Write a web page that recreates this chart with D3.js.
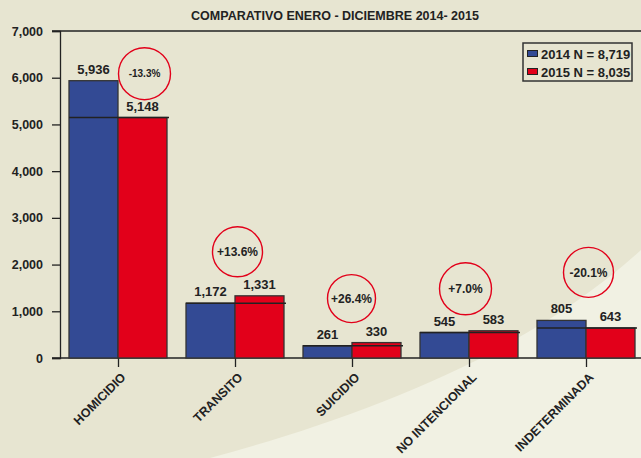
<!DOCTYPE html>
<html>
<head>
<meta charset="utf-8">
<script src="https://cdn.jsdelivr.net/npm/d3@7"></script>
<style>
  body { margin: 0; background: #e7e5d1; }
  svg { display: block; font-family: Arial, "Liberation Sans", sans-serif; }
</style>
</head>
<body>
<div id="chart"></div>
<script>
// Data
const categories = ["HOMICIDIO", "TRANSITO", "SUICIDIO", "NO INTENCIONAL", "INDETERMINADA"];
const years = ["2014", "2015"];
const values2014 = [5936, 1172, 261, 545, 805];
const values2015 = [5148, 1331, 330, 583, 643];
const yTicks = [0, 1000, 2000, 3000, 4000, 5000, 6000, 7000];

// where each % circle sits, relative to the group centre / tallest bar
const circleDx = [26, 2, -1, -4, 2];
const circleDy = [-7, -44, -44, -42, -48];

const colors = { "2014": "#334a94", "2015": "#e2001a" };
const textColor = "#222";

const svgWidth = 641;
const svgHeight = 458;
const margin = { top: 31, right: -4, bottom: 100, left: 60 };

const svg = d3.select("#chart")
  .append("svg")
  .attr("width", svgWidth)
  .attr("height", svgHeight);

// Background + light swoosh
svg.append("rect")
  .attr("width", svgWidth)
  .attr("height", svgHeight)
  .attr("fill", "#e7e5d1");
svg.append("path")
  .attr("d", "M210,458 C350,420 520,360 641,250 L641,458 Z")
  .attr("fill", "#f1f1e3");

const x0 = d3.scaleBand()
  .domain(categories)
  .range([margin.left, svgWidth - margin.right]);

const x1 = d3.scaleBand()
  .domain(years)
  .range([9, 107]);

const y = d3.scaleLinear()
  .domain([0, 7000])
  .range([svgHeight - margin.bottom, margin.top]);

const yBase = y(0);

// Frame lines (top and x axis run across)
svg.append("line")
  .attr("x1", 52).attr("x2", svgWidth)
  .attr("y1", y(7000)).attr("y2", y(7000))
  .attr("stroke", textColor).attr("stroke-width", 1.3);

// Y axis
const yAxis = svg.append("g")
  .attr("transform", `translate(${margin.left},0)`)
  .call(d3.axisLeft(y).tickValues(yTicks).tickFormat(d3.format(",")).tickSize(8).tickPadding(9));
yAxis.select(".domain").attr("stroke", textColor).attr("stroke-width", 1.3);
yAxis.selectAll(".tick line").attr("stroke", textColor).attr("stroke-width", 1.3);
yAxis.selectAll(".tick text")
  .attr("fill", textColor)
  .style("font-size", "12.5px")
  .style("font-weight", "bold");

// X axis
const xAxis = svg.append("g")
  .attr("transform", `translate(0,${yBase})`)
  .call(d3.axisBottom(x0).tickSize(9).tickSizeOuter(0));
xAxis.select(".domain").remove();
svg.append("line")
  .attr("x1", 52).attr("x2", svgWidth)
  .attr("y1", yBase).attr("y2", yBase)
  .attr("stroke", textColor).attr("stroke-width", 1.3);
xAxis.selectAll(".tick line").attr("stroke", textColor).attr("stroke-width", 1.3);
xAxis.selectAll(".tick text")
  .attr("fill", textColor)
  .attr("text-anchor", "end")
  .attr("dx", 0)
  .attr("dy", 0)
  .attr("transform", "translate(8,20) rotate(-45)")
  .attr("y", 0)
  .attr("x", 0)
  .style("font-size", "12.5px")
  .style("font-weight", "bold");

// Bars
const rows = categories.map((c, i) => ({
  cat: c, i,
  vals: [
    { year: "2014", v: values2014[i] },
    { year: "2015", v: values2015[i] },
  ],
}));

const groups = svg.selectAll(".group")
  .data(rows)
  .enter()
  .append("g")
  .attr("transform", (d) => `translate(${x0(d.cat)},0)`);

groups.selectAll("rect")
  .data((d) => d.vals)
  .enter()
  .append("rect")
  .attr("x", (d) => x1(d.year))
  .attr("y", (d) => y(d.v))
  .attr("width", x1.bandwidth())
  .attr("height", (d) => yBase - y(d.v))
  .attr("fill", (d) => colors[d.year])
  .attr("stroke", "#333")
  .attr("stroke-width", 1.3);

// shadow line at the lower of the two bars
groups.append("line")
  .attr("x1", x1("2014"))
  .attr("x2", x1("2015") + x1.bandwidth() + 2)
  .attr("y1", (d) => y(Math.min(d.vals[0].v, d.vals[1].v)))
  .attr("y2", (d) => y(Math.min(d.vals[0].v, d.vals[1].v)))
  .attr("stroke", "#222")
  .attr("stroke-width", 1.4);

// value labels
groups.selectAll(".val")
  .data((d) => d.vals)
  .enter()
  .append("text")
  .attr("x", (d) => x1(d.year) + x1.bandwidth() / 2)
  .attr("y", (d) => y(d.v) - 7)
  .attr("text-anchor", "middle")
  .attr("fill", textColor)
  .style("font-size", "13px")
  .style("font-weight", "bold")
  .text((d) => d3.format(",")(d.v));

// % change circles
const pct = (d) => {
  const p = (d.vals[1].v - d.vals[0].v) / d.vals[0].v * 100;
  return (p >= 0 ? "+" : "") + p.toFixed(1) + "%";
};
const center = x0.bandwidth() / 2;
const radius = [26, 25, 24, 26, 25];

groups.append("circle")
  .attr("cx", (d) => center + circleDx[d.i])
  .attr("cy", (d) => y(Math.max(d.vals[0].v, d.vals[1].v)) + circleDy[d.i])
  .attr("r", (d) => radius[d.i])
  .attr("fill", "none")
  .attr("stroke", "#e2001a")
  .attr("stroke-width", 1.4);

groups.append("text")
  .attr("x", (d) => center + circleDx[d.i])
  .attr("y", (d) => y(Math.max(d.vals[0].v, d.vals[1].v)) + circleDy[d.i])
  .attr("dy", "0.36em")
  .attr("text-anchor", "middle")
  .attr("fill", textColor)
  .style("font-size", (d) => (d.i === 0 ? "10px" : "12px"))
  .style("font-weight", "bold")
  .text(pct);

// Title
svg.append("text")
  .attr("x", 335)
  .attr("y", 20)
  .attr("text-anchor", "middle")
  .attr("fill", textColor)
  .style("font-size", "12.5px")
  .style("font-weight", "bold")
  .text("COMPARATIVO ENERO - DICIEMBRE 2014- 2015");

// Legend
const totals = { "2014": d3.sum(values2014), "2015": d3.sum(values2015) };
const legend = svg.append("g").attr("transform", "translate(523,43)");
legend.append("rect")
  .attr("width", 109)
  .attr("height", 38)
  .attr("fill", "none")
  .attr("stroke", "#333")
  .attr("stroke-width", 1.5);
years.forEach((yr, i) => {
  legend.append("rect")
    .attr("x", 4.5)
    .attr("y", 7.5 + i * 18)
    .attr("width", 10)
    .attr("height", 6)
    .attr("fill", colors[yr])
    .attr("stroke", "#222")
    .attr("stroke-width", 1);
  legend.append("text")
    .attr("x", 18)
    .attr("y", 15.5 + i * 18)
    .attr("fill", textColor)
    .style("font-size", "13px")
    .style("font-weight", "bold")
    .text(`${yr} N = ${d3.format(",")(totals[yr])}`);
});
</script>
</body>
</html>
